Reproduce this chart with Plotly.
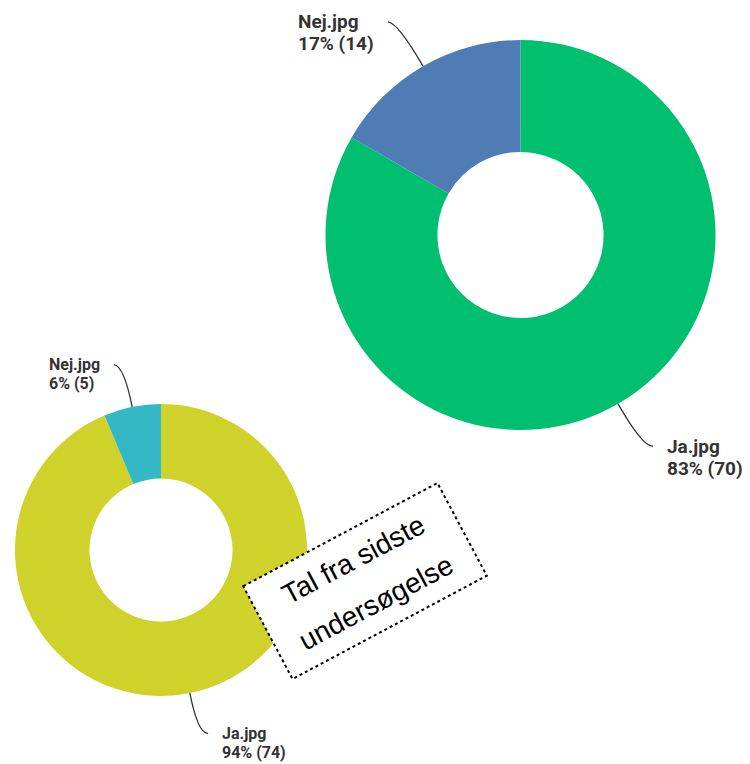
import math

import plotly.graph_objects as go

W, H = 750, 764

# current survey
big_labels = ["Ja.jpg", "Nej.jpg"]
big_values = [70, 14]
big_colors = ["#00BF6F", "#507CB6"]

# previous survey
small_labels = ["Ja.jpg", "Nej.jpg"]
small_values = [74, 5]
small_colors = ["#CFD22A", "#35B8C5"]

note_lines = ["Tal fra sidste", "undersøgelse"]


def px(x, y):
    return x / W, 1 - y / H


def slice_dirs(values):
    total = sum(values)
    acc = 0
    out = []
    for v in values:
        th = 2 * math.pi * (acc + v / 2) / total
        acc += v
        out.append((math.sin(th), -math.cos(th)))
    return out


def add_donut(fig, labels, values, colors, cx, cy, r, hole, ext, font_size, line_gap):
    x0, y0 = px(cx - r, cy + r)
    x1, y1 = px(cx + r, cy - r)
    fig.add_trace(go.Pie(
        labels=labels, values=values, hole=hole, sort=False, direction="clockwise",
        rotation=0, textinfo="none", hoverinfo="label+value+percent",
        marker=dict(colors=colors, line=dict(width=0)),
        domain=dict(x=[x0, x1], y=[y0, y1]), showlegend=False,
    ))
    total = sum(values)
    for lab, v, (dx, dy) in zip(labels, values, slice_dirs(values)):
        side = 1 if dx >= 0 else -1
        p0 = (cx + r * dx, cy + r * dy)
        p1 = (cx + (r + ext) * dx, cy + (r + ext) * dy)
        e = (p1[0] + side * 10, p1[1] - 1)
        a, b, c = px(*p0), px(*p1), px(*e)
        fig.add_shape(type="path", xref="paper", yref="paper",
                      path=f"M {a[0]},{a[1]} Q {b[0]},{b[1]} {c[0]},{c[1]}",
                      line=dict(color="#333333", width=1.3))
        pct = round(100 * v / total)
        # line spacing follows the annotation font size (1.3em), glyphs follow the span
        base = line_gap / 1.3
        txt = (f"<span style='font-size:{font_size}px'><b>{lab}</b></span><br>"
               f"<span style='font-size:{font_size}px'><b>{pct}% ({v})</b></span>")
        lx, ly = px(e[0] + side * 12, e[1] + line_gap / 2)
        fig.add_annotation(
            x=lx, y=ly, xref="paper", yref="paper",
            xanchor="left" if side > 0 else "right", yanchor="middle", align="left",
            text=txt, showarrow=False,
            font=dict(family="Roboto", size=base, color="#333333"),
        )


fig = go.Figure()
add_donut(fig, big_labels, big_values, big_colors, 520.5, 235, 195, 0.426, 50, 19, 22)
add_donut(fig, small_labels, small_values, small_colors, 161, 550, 146, 0.49, 42, 16, 19)

# rotated dotted note box
bcx, bcy, bw, bh, ang = 365, 581, 220, 105, 28
ca, sa = math.cos(math.radians(ang)), math.sin(math.radians(ang))
ux, uy = bw / 2 * ca, -bw / 2 * sa
vx, vy = bh / 2 * sa, bh / 2 * ca
corners = [
    (bcx - ux - vx, bcy - uy - vy),
    (bcx + ux - vx, bcy + uy - vy),
    (bcx + ux + vx, bcy + uy + vy),
    (bcx - ux + vx, bcy - uy + vy),
]
pts = [px(*p) for p in corners]
path = "M " + " L ".join(f"{x},{y}" for x, y in pts) + " Z"
fig.add_shape(type="path", xref="paper", yref="paper", path=path, layer="above",
              fillcolor="white", line=dict(color="black", width=2, dash="dot"))
gap = 48
for i, line in enumerate(note_lines):
    off = (i - 0.5) * gap
    nx, ny = px(bcx + off * sa, bcy + off * ca)
    fig.add_annotation(x=nx, y=ny, xref="paper", yref="paper", text=line,
                       showarrow=False, textangle=-ang, xanchor="center", yanchor="middle",
                       font=dict(family="Liberation Sans", size=28, color="black"))

fig.update_layout(width=W, height=H, margin=dict(l=0, r=0, t=0, b=0),
                  paper_bgcolor="white", plot_bgcolor="white")
fig.write_html("out.html", config={"displayModeBar": False},
               post_script="document.body.style.margin='0px';")
